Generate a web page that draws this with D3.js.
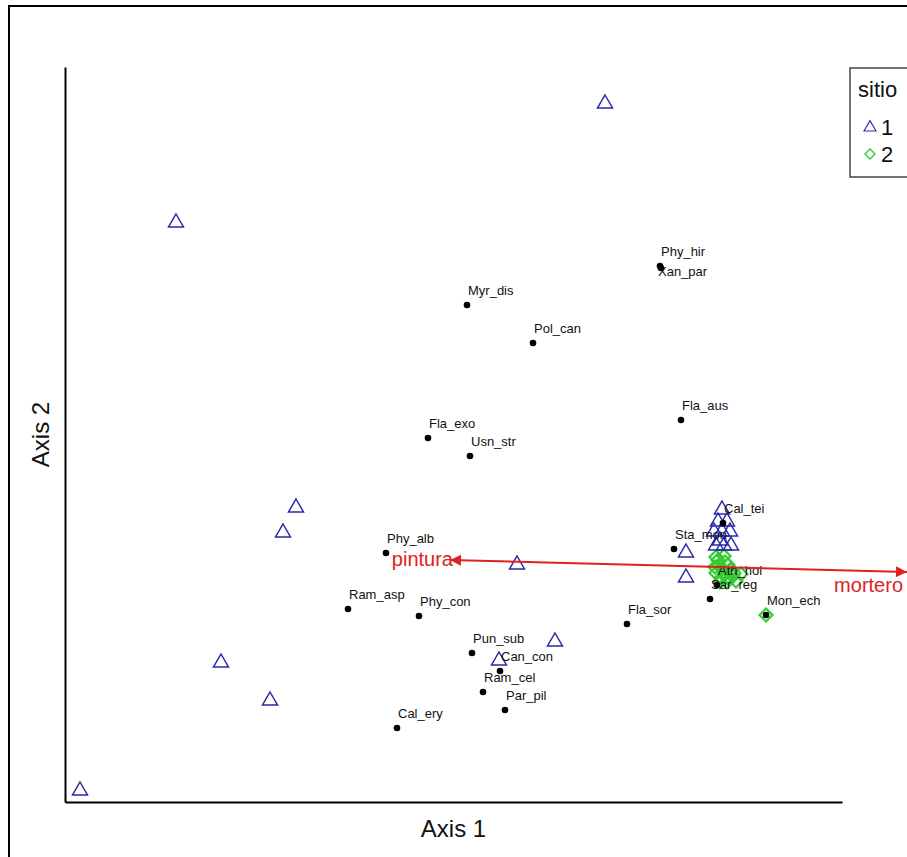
<!DOCTYPE html>
<html>
<head>
<meta charset="utf-8">
<script src="https://cdn.jsdelivr.net/npm/d3@7"></script>
<style>
  html, body { margin: 0; padding: 0; background: #fff; }
  svg { display: block; font-family: "Liberation Sans", Arial, sans-serif; }
</style>
</head>
<body>
<div id="chart"></div>
<script>
// ---------------- DATA (ordination scores, arbitrary axis units) ----------------
const site1X = [1.40, -2.89, -1.69, -1.82, 0.52, 0.90, -2.44, 0.34, -1.95, -3.85, 2.21, 2.21,
                2.57, 2.53, 2.62, 2.49, 2.57, 2.65, 2.51, 2.59, 2.66, 2.55];
const site1Y = [2.99, 1.80, -1.05, -1.30, -1.62, -2.39, -2.60, -2.58, -2.98, -3.88, -1.50, -1.75,
                -1.07, -1.19, -1.19, -1.29, -1.29, -1.29, -1.43, -1.43, -1.43, -1.38];

const site2X = [2.51, 2.59, 2.54, 2.63, 2.51, 2.59, 2.68, 2.76, 2.62, 2.71, 2.55, 3.01,
                2.53, 2.60, 2.66, 2.56, 2.50, 2.64, 2.57, 2.69];
const site2Y = [-1.55, -1.54, -1.63, -1.63, -1.71, -1.73, -1.74, -1.72, -1.80, -1.79, -1.80, -2.13,
                -1.58, -1.60, -1.68, -1.76, -1.65, -1.77, -1.67, -1.71];

const speciesNames = ["Phy_hir", "Xan_par", "Myr_dis", "Pol_can", "Fla_aus", "Fla_exo", "Usn_str",
  "Phy_alb", "Cal_tei", "Sta_mon", "Ath_hol", "Sar_reg", "Mon_ech", "Ram_asp", "Phy_con",
  "Fla_sor", "Pun_sub", "Can_con", "Ram_cel", "Par_pil", "Cal_ery"];
const speciesX = [1.95, 1.96, 0.02, 0.68, 2.16, -0.37, 0.05, -0.79, 2.58, 2.09, 2.52, 2.45, 3.01,
  -1.17, -0.46, 1.62, 0.07, 0.35, 0.18, 0.40, -0.68];
const speciesY = [1.36, 1.34, 0.97, 0.59, -0.18, -0.36, -0.54, -1.51, -1.21, -1.47, -1.83, -1.97,
  -2.13, -2.07, -2.14, -2.22, -2.51, -2.69, -2.90, -3.08, -3.26];

const envNames = ["pintura", "mortero"];
const envOrigin = [2.35, -1.646];
const envX = [-0.15, 4.42];
const envY = [-1.58, -1.70];

const legendTitle = "sitio";
const legendLabels = ["1", "2"];
const axisTitles = ["Axis 1", "Axis 2"];

// ---------------- LAYOUT ----------------
const W = 907, H = 857;
const plot = { left: 65, right: 842, top: 67, bottom: 802 };
const x = d3.scaleLinear().domain([-4.0, 3.77]).range([plot.left, plot.right]);
const y = d3.scaleLinear().domain([-4.0, 3.35]).range([plot.bottom, plot.top]);

const blue = "#2a2aa6";
const green = "#33cc33";
const red = "#dd2222";

const svg = d3.select("#chart").append("svg").attr("width", W).attr("height", H);

// outer frame
svg.append("rect").attr("x", 9).attr("y", 6).attr("width", 1000).attr("height", 1000)
  .attr("fill", "none").attr("stroke", "#000").attr("stroke-width", 2);

// axes (no ticks)
const xAxis = d3.axisBottom(x).tickValues([]).tickSizeOuter(0);
const yAxis = d3.axisLeft(y).tickValues([]).tickSizeOuter(0);
svg.append("g").attr("transform", `translate(0,${plot.bottom})`).call(xAxis)
  .select(".domain").attr("stroke", "#000").attr("stroke-width", 2);
svg.append("g").attr("transform", `translate(${plot.left},0)`).call(yAxis)
  .select(".domain").attr("stroke", "#000").attr("stroke-width", 2);

svg.append("text").attr("x", (plot.left + plot.right) / 2).attr("y", 837)
  .attr("text-anchor", "middle").attr("font-size", 24).attr("fill", "#111").text(axisTitles[0]);
svg.append("text").attr("transform", `translate(49,${(plot.top + plot.bottom) / 2})rotate(-90)`)
  .attr("text-anchor", "middle").attr("font-size", 24).attr("fill", "#111").text(axisTitles[1]);

// symbols
const triPath = "M0,-8L7.5,5L-7.5,5Z";
const diaPath = "M0,-6.5L6.5,0L0,6.5L-6.5,0Z";

// site 2 diamonds
svg.append("g").selectAll("path").data(site2X.map((d, i) => [d, site2Y[i]])).join("path")
  .attr("d", diaPath).attr("transform", d => `translate(${x(d[0])},${y(d[1])})`)
  .attr("fill", "none").attr("stroke", green).attr("stroke-width", 2.2);

// site 1 triangles
svg.append("g").selectAll("path").data(site1X.map((d, i) => [d, site1Y[i]])).join("path")
  .attr("d", triPath).attr("transform", d => `translate(${x(d[0])},${y(d[1])})`)
  .attr("fill", "none").attr("stroke", blue).attr("stroke-width", 1.5);

// species points
const species = speciesNames.map((n, i) => ({ name: n, x: speciesX[i], y: speciesY[i] }));
svg.append("g").selectAll("circle").data(species).join("circle")
  .attr("cx", d => x(d.x)).attr("cy", d => y(d.y)).attr("r", 3.3).attr("fill", "#000");

const labelBelow = new Set(["Xan_par"]);
svg.append("g").selectAll("text").data(species).join("text")
  .attr("x", d => x(d.x) + (labelBelow.has(d.name) ? -3 : 1))
  .attr("y", d => y(d.y) + (labelBelow.has(d.name) ? 8 : -10))
  .attr("font-size", 13).attr("fill", "#111").text(d => d.name);

// environmental arrows
const defs = svg.append("defs");
defs.append("marker").attr("id", "ah").attr("viewBox", "0 0 10 10")
  .attr("refX", 10).attr("refY", 5).attr("markerWidth", 6).attr("markerHeight", 5.5)
  .attr("markerUnits", "strokeWidth").attr("orient", "auto")
  .append("path").attr("d", "M0,0L10,5L0,10Z").attr("fill", red);

const env = envNames.map((n, i) => ({ name: n, x: envX[i], y: envY[i] }));
svg.append("g").selectAll("line").data(env).join("line")
  .attr("x1", x(envOrigin[0])).attr("y1", y(envOrigin[1]))
  .attr("x2", d => x(d.x)).attr("y2", d => y(d.y))
  .attr("stroke", red).attr("stroke-width", 2).attr("marker-end", "url(#ah)");

svg.append("g").selectAll("text").data(env).join("text")
  .attr("x", d => d.x < envOrigin[0] ? x(d.x) + 3 : x(d.x) - 4)
  .attr("y", d => d.x < envOrigin[0] ? y(d.y) + 6 : y(d.y) + 20)
  .attr("text-anchor", "end").attr("font-size", 20).attr("fill", red).text(d => d.name);

// legend
const lg = svg.append("g");
lg.append("rect").attr("x", 850).attr("y", 68).attr("width", 100).attr("height", 109)
  .attr("fill", "#fff").attr("stroke", "#444").attr("stroke-width", 1.5);
lg.append("text").attr("x", 858).attr("y", 97).attr("font-size", 22).attr("fill", "#111").text(legendTitle);
const legSyms = [{ d: triPath, c: blue }, { d: "M0,-5L5,0L0,5L-5,0Z", c: green }];
legendLabels.forEach((lab, i) => {
  const cy = 127 + i * 27;
  lg.append("path").attr("d", legSyms[i].d)
    .attr("transform", `translate(870,${cy}) scale(${i === 0 ? 0.8 : 1})`)
    .attr("fill", "none").attr("stroke", legSyms[i].c).attr("stroke-width", 1.4);
  lg.append("text").attr("x", 881).attr("y", cy + 8).attr("font-size", 22).attr("fill", "#111").text(lab);
});
</script>
</body>
</html>
